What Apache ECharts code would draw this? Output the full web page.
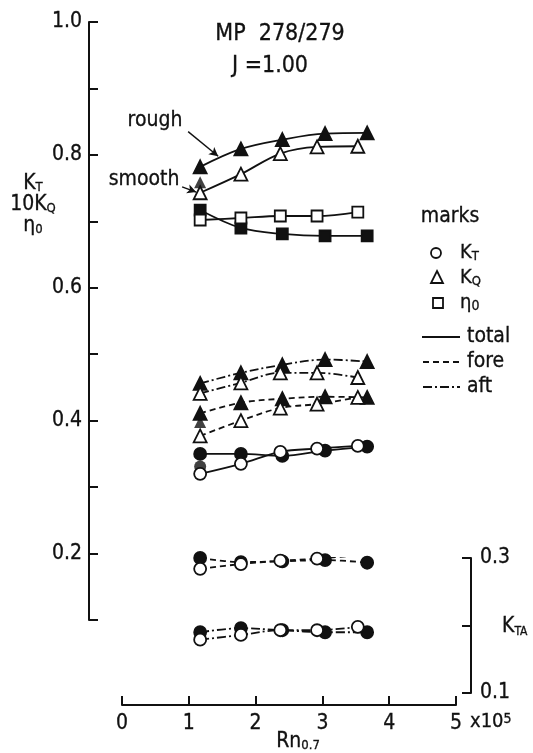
<!DOCTYPE html>
<html>
<head>
<meta charset="utf-8">
<script src="https://cdn.jsdelivr.net/npm/echarts@6/dist/echarts.min.js"></script>
<style>
  html, body { margin: 0; padding: 0; background: #fff; }
  #chart { width: 533px; height: 753px; }
</style>
</head>
<body>
<div id="chart"></div>
<script>
// Reynolds number positions (x 10^5) of the measured points
const rnSmooth = [1.17, 1.78, 2.37, 2.92, 3.53];
const rnRough  = [1.17, 1.78, 2.40, 3.04, 3.67];

// 10KQ, total (both propellers)
const kqTotalRough  = [0.782, 0.809, 0.823, 0.832, 0.833];
const kqTotalSmooth = [0.743, 0.771, 0.802, 0.812, 0.813];
// open-water efficiency
const etaRough  = [0.717, 0.690, 0.681, 0.678, 0.678];
const etaSmooth = [0.702, 0.705, 0.708, 0.708, 0.714];
// 10KQ, aft propeller
const kqAftRough  = [0.456, 0.472, 0.484, 0.492, 0.489];
const kqAftSmooth = [0.441, 0.457, 0.472, 0.472, 0.465];
// 10KQ, fore propeller
const kqForeRough  = [0.411, 0.427, 0.433, 0.436, 0.435];
const kqForeSmooth = [0.377, 0.400, 0.419, 0.425, 0.435];
// KT, total
const ktTotalRough  = [0.350, 0.350, 0.347, 0.355, 0.361];
const ktTotalSmooth = [0.320, 0.335, 0.353, 0.358, 0.362];
// KTA (right-hand scale), fore and aft
const ktaForeRough  = [0.300, 0.294, 0.295, 0.297, 0.293];
const ktaForeSmooth = [0.284, 0.291, 0.296, 0.299, 0.304];
const ktaAftRough   = [0.190, 0.196, 0.193, 0.190, 0.190];
const ktaAftSmooth  = [0.179, 0.186, 0.193, 0.193, 0.198];
// repeated rough-surface readings at the lowest Rn
const repeatRn = [1.17, 1.17, 1.17];
const repeatVal = [0.759, 0.398, 0.331];
const repeatSym = ['triangle', 'triangle', 'circle'];

// tick labels
const xTicks = ['0', '1', '2', '3', '4', '5'];

const FONT = '"DejaVu Sans Condensed", "DejaVu Sans", sans-serif';
const INK = '#111';
const DASH = [6, 4];
const DASHDOT = [9, 3, 2, 3];

function pairs(xs, ys) { return xs.map((x, i) => [x, ys[i]]); }

function curve(name, xs, ys, symbol, filled, dash, size, axis) {
  return {
    name: name,
    type: 'line',
    xAxisIndex: axis, yAxisIndex: axis,
    data: pairs(xs, ys),
    smooth: 0.35,
    symbol: symbol,
    symbolSize: size,
    showSymbol: true,
    lineStyle: { color: INK, width: 1.8, type: dash },
    itemStyle: { color: filled ? INK : '#fff', borderColor: INK, borderWidth: 1.8 },
    z: filled ? 3 : 4,
    animation: false
  };
}

const series = [
  curve('10KQ total rough', rnRough, kqTotalRough, 'triangle', true, 'solid', 13, 0),
  curve('10KQ total smooth', rnSmooth, kqTotalSmooth, 'triangle', false, 'solid', 13, 0),
  curve('eta rough', rnRough, etaRough, 'rect', true, 'solid', 11, 0),
  curve('eta smooth', rnSmooth, etaSmooth, 'rect', false, 'solid', 11, 0),
  curve('10KQ aft rough', rnRough, kqAftRough, 'triangle', true, DASHDOT, 13, 0),
  curve('10KQ aft smooth', rnSmooth, kqAftSmooth, 'triangle', false, DASHDOT, 13, 0),
  curve('10KQ fore rough', rnRough, kqForeRough, 'triangle', true, DASH, 13, 0),
  curve('10KQ fore smooth', rnSmooth, kqForeSmooth, 'triangle', false, DASH, 13, 0),
  curve('KT total rough', rnRough, ktTotalRough, 'circle', true, 'solid', 12, 0),
  curve('KT total smooth', rnSmooth, ktTotalSmooth, 'circle', false, 'solid', 12, 0),
  curve('KTA fore rough', rnRough, ktaForeRough, 'circle', true, DASH, 12, 1),
  curve('KTA fore smooth', rnSmooth, ktaForeSmooth, 'circle', false, DASH, 12, 1),
  curve('KTA aft rough', rnRough, ktaAftRough, 'circle', true, DASHDOT, 12, 1),
  curve('KTA aft smooth', rnSmooth, ktaAftSmooth, 'circle', false, DASHDOT, 12, 1),
  {
    name: 'repeat',
    type: 'scatter',
    xAxisIndex: 0, yAxisIndex: 0,
    data: repeatRn.map((x, i) => ({ value: [x, repeatVal[i]], symbol: repeatSym[i] })),
    symbolSize: 12,
    itemStyle: { color: INK },
    z: 2,
    animation: false
  }
];

// pointer arrows for the "rough" / "smooth" notes (data coordinates)
series[0].markLine = {
  silent: true, animation: false,
  symbol: ['none', 'arrow'], symbolSize: [7, 9],
  label: { show: false },
  lineStyle: { color: INK, width: 1.4, type: 'solid' },
  data: [
    [{ coord: [0.99, 0.835] }, { coord: [1.44, 0.798] }],
    [{ coord: [0.90, 0.752] }, { coord: [1.11, 0.744] }]
  ]
};

const axisLine = { show: true, onZero: false, lineStyle: { color: INK, width: 2 } };
const axisTick = { show: true, inside: true, length: 9, lineStyle: { color: INK, width: 2 } };
const labelStyle = { color: INK, fontFamily: FONT, fontSize: 21, textBorderColor: INK, textBorderWidth: 0.3 };

function txt(x, y, text, size, align) {
  return { type: 'text', x: x, y: y, style: {
    text: text, fill: INK, font: size + 'px ' + FONT, align: align || 'center', verticalAlign: 'middle',
    stroke: INK, lineWidth: 0.3 } };
}

function rich(x, y, text, big, small, pos, align) {
  return { type: 'text', x: x, y: y, style: {
    text: text, align: align || 'left', verticalAlign: 'middle', fill: INK,
    rich: {
      k: { fontFamily: FONT, fontSize: big, lineHeight: big, fill: INK, stroke: INK, lineWidth: 0.3 },
      s: { fontFamily: FONT, fontSize: small, lineHeight: big, fill: INK, verticalAlign: pos, stroke: INK, lineWidth: 0.3 }
    } } };
}

const option = {
  backgroundColor: '#fff',
  animation: false,
  grid: [
    { left: 122, top: 22, width: 334, height: 598 },
    { left: 122, top: 558, width: 334, height: 135 }
  ],
  xAxis: [
    {
      gridIndex: 0, type: 'value', min: 0, max: 5, interval: 1,
      position: 'bottom', offset: 85,
      axisLine: axisLine, axisTick: axisTick, splitLine: { show: false },
      axisLabel: Object.assign({ margin: 8, formatter: v => xTicks[Math.round(v)] }, labelStyle)
    },
    {
      gridIndex: 1, type: 'value', min: 0, max: 5, show: false
    }
  ],
  yAxis: [
    {
      gridIndex: 0, type: 'value', min: 0.1, max: 1.0, interval: 0.1,
      position: 'left', offset: 33,
      axisLine: axisLine, axisTick: axisTick, splitLine: { show: false },
      axisLabel: Object.assign({
        margin: 7,
        formatter: v => (Math.round(v * 10) % 2 === 0 ? v.toFixed(1) : '')
      }, labelStyle)
    },
    {
      gridIndex: 1, type: 'value', min: 0.1, max: 0.3, interval: 0.1,
      position: 'right', offset: 15,
      axisLine: axisLine, axisTick: axisTick, splitLine: { show: false },
      axisLabel: Object.assign({
        margin: 9,
        formatter: v => (Math.abs(v - 0.2) < 1e-6 ? '' : v.toFixed(1))
      }, labelStyle)
    }
  ],
  series: series,
  graphic: [
    txt(280, 34, 'MP  278/279', 23),
    txt(270, 66, 'J =1.00', 23),
    txt(155, 121, 'rough', 21),
    txt(144, 180, 'smooth', 21),
    // left axis name
    rich(33, 205, '{k|K}{s|T}\n{k|10K}{s|Q}\n{k|η}{s|0}', 21, 13, 'bottom', 'center'),
    // right axis name
    rich(502, 627, '{k|K}{s|TA}', 21, 12, 'bottom'),
    // x axis exponent and name
    rich(470, 722, '{k|x10}{s|5}', 20, 14, 'top'),
    rich(298, 742, '{k|Rn}{s|0.7}', 21, 13, 'bottom', 'center'),
    // key
    txt(450, 217, 'marks', 21),
    { type: 'circle', shape: { cx: 436, cy: 253, r: 5 }, style: { fill: '#fff', stroke: INK, lineWidth: 1.8 } },
    { type: 'polygon', shape: { points: [[437, 271], [443, 283], [431, 283]] }, style: { fill: '#fff', stroke: INK, lineWidth: 1.8 } },
    { type: 'rect', shape: { x: 433, y: 298, width: 10, height: 10 }, style: { fill: '#fff', stroke: INK, lineWidth: 1.8 } },
    rich(460, 253, '{k|K}{s|T}', 20, 13, 'bottom'),
    rich(460, 278, '{k|K}{s|Q}', 20, 13, 'bottom'),
    rich(460, 303, '{k|η}{s|0}', 20, 14, 'bottom'),
    { type: 'line', shape: { x1: 422, y1: 337, x2: 460, y2: 337 }, style: { stroke: INK, lineWidth: 1.8 } },
    { type: 'line', shape: { x1: 423, y1: 362, x2: 460, y2: 362 }, style: { stroke: INK, lineWidth: 1.8, lineDash: DASH } },
    { type: 'line', shape: { x1: 423, y1: 387, x2: 460, y2: 387 }, style: { stroke: INK, lineWidth: 1.8, lineDash: DASHDOT } },
    txt(467, 337, 'total', 21, 'left'),
    txt(467, 362, 'fore', 21, 'left'),
    txt(467, 387, 'aft', 21, 'left')
  ]
};

const chart = echarts.init(document.getElementById('chart'), null, { renderer: 'canvas' });
chart.setOption(option);
</script>
</body>
</html>
